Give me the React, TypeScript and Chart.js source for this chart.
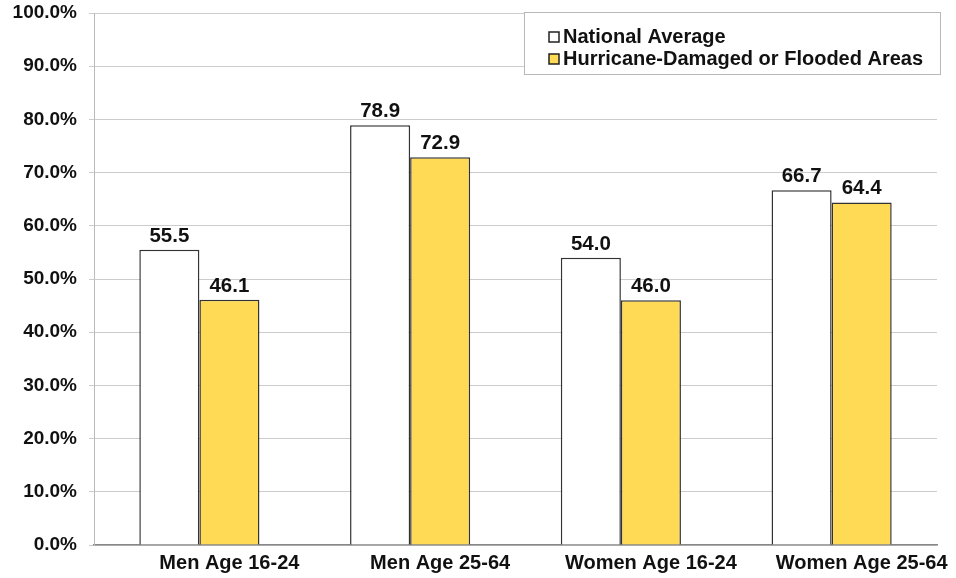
import React, { useEffect, useRef } from "react";
import { Chart, registerables } from "chart.js";

Chart.register(...registerables);

const categories = ["Men Age 16-24", "Men Age 25-64", "Women Age 16-24", "Women Age 25-64"];
const seriesNames = ["National Average", "Hurricane-Damaged or Flooded Areas"];
const nationalAverage = [55.5, 78.9, 54.0, 66.7];
const hurricaneAreas = [46.1, 72.9, 46.0, 64.4];
const seriesColors = ["#ffffff", "#ffda55"];

const FONT = "'Liberation Sans', Arial, Helvetica, sans-serif";

const valueLabels = {
  id: "valueLabels",
  afterDatasetsDraw(chart: any) {
    const ctx = chart.ctx;
    ctx.save();
    ctx.font = `bold 20.5px ${FONT}`;
    ctx.fillStyle = "#111";
    ctx.textAlign = "center";
    ctx.textBaseline = "alphabetic";
    chart.data.datasets.forEach((ds: any, di: number) => {
      const meta = chart.getDatasetMeta(di);
      meta.data.forEach((el: any, i: number) => {
        ctx.fillText(Number(ds.data[i]).toFixed(1), el.x, el.y - 8);
      });
    });
    ctx.restore();
  },
};

const boxLegend = {
  id: "boxLegend",
  afterDraw(chart: any) {
    const ctx = chart.ctx;
    ctx.save();
    const x = 524, y = 12, w = 416, h = 62;
    ctx.fillStyle = "#fff";
    ctx.fillRect(x, y, w, h);
    ctx.strokeStyle = "#b8b8b8";
    ctx.lineWidth = 1;
    ctx.strokeRect(x + 0.5, y + 0.5, w, h);
    ctx.font = `bold 20px ${FONT}`;
    ctx.textBaseline = "alphabetic";
    ctx.textAlign = "left";
    const rows = [43, 65];
    seriesNames.forEach((name, i) => {
      const by = rows[i];
      ctx.fillStyle = seriesColors[i];
      ctx.fillRect(549, by - 11, 10, 10);
      ctx.strokeStyle = "#222";
      ctx.lineWidth = 1.5;
      ctx.strokeRect(549, by - 11, 10, 10);
      ctx.fillStyle = "#111";
      ctx.fillText(name, 563, by);
    });
    ctx.restore();
  },
};

export default function App() {
  const ref = useRef<HTMLCanvasElement | null>(null);
  useEffect(() => {
    if (!ref.current) return;
    const chart = new Chart(ref.current, {
      type: "bar",
      data: {
        labels: categories,
        datasets: [
          {
            label: seriesNames[0],
            data: nationalAverage,
            backgroundColor: seriesColors[0],
            borderColor: "#333",
            borderWidth: 1.5,
          },
          {
            label: seriesNames[1],
            data: hurricaneAreas,
            backgroundColor: seriesColors[1],
            borderColor: "#333",
            borderWidth: 1.5,
          },
        ],
      },
      options: {
        animation: false,
        responsive: false,
        maintainAspectRatio: false,
        devicePixelRatio: 1,
        layout: { padding: { top: 13, right: 19, left: 0, bottom: 0 } },
        datasets: { bar: { barPercentage: 1, categoryPercentage: 0.57 } },
        plugins: {
          legend: { display: false },
          tooltip: { enabled: false },
        },
        scales: {
          x: {
            grid: { display: false, drawTicks: false },
            border: { display: true, color: "#888", width: 1.5 },
            ticks: {
              color: "#111",
              padding: 6,
              labelOffset: 30,
              font: { family: FONT, size: 20, weight: "bold" },
            },
            afterFit: (s: any) => {
              s.height = 33;
              s.paddingLeft = 0;
              s.paddingRight = 0;
            },
          },
          y: {
            min: 0,
            max: 100,
            ticks: {
              stepSize: 10,
              color: "#111",
              padding: 12,
              font: { family: FONT, size: 19, weight: "bold" },
              callback: (v: any) => Number(v).toFixed(1) + "%",
            },
            grid: { color: "#cccccc", lineWidth: 1, tickLength: 5 },
            border: { display: true, color: "#bbbbbb", width: 1 },
            afterFit: (s: any) => {
              s.width = 94;
              s.paddingTop = 0;
              s.paddingBottom = 0;
            },
          },
        },
      },
      plugins: [valueLabels, boxLegend],
    });
    return () => chart.destroy();
  }, []);
  return (
    <div style={{ position: "fixed", left: 0, top: 0, width: 956, height: 578, background: "#fff" }}>
      <canvas ref={ref} width={956} height={578} style={{ width: 956, height: 578, display: "block" }} />
    </div>
  );
}
